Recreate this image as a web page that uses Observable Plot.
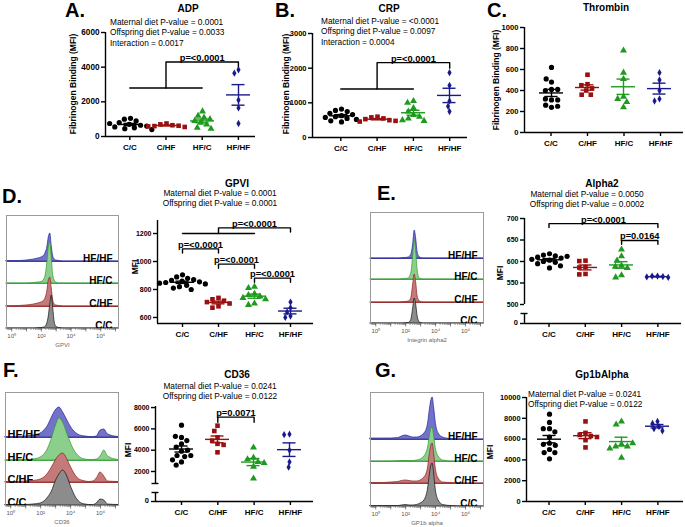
<!DOCTYPE html>
<html><head><meta charset="utf-8">
<script src="https://cdn.jsdelivr.net/npm/d3@7"></script>
<script src="https://cdn.jsdelivr.net/npm/@observablehq/plot@0.6"></script>
<style>
body{margin:0;background:#fff;}
#root{position:relative;width:685px;height:527px;overflow:hidden;font-family:"Liberation Sans",Arial,sans-serif;background:#fff;}
.abs{position:absolute;white-space:nowrap;line-height:1;}
</style></head><body><div id="root"></div>
<script>
const groups = ["C/C", "C/HF", "HF/C", "HF/HF"];
const groupColors = ["#000000", "#9a1010", "#1f9a1f", "#1a1a8c"];
const groupSymbols = ["circle", "square", "triangle", "diamond"];

const adpCC = [1050, 1000, 900, 800, 700, 650, 600, 550, 500, 450, 400, 750];
const adpCHF = [750, 700, 650, 620, 600, 580, 550];
const adpHFC = [1450, 1200, 1100, 1000, 900, 800, 700, 500, 450];
const adpHFHF = [3850, 3650, 2100, 1650, 750];
const crpCC = [820, 780, 750, 700, 660, 630, 600, 580, 550, 520, 480, 450];
const crpCHF = [600, 580, 550, 530, 500, 480, 460];
const crpHFC = [1050, 1000, 850, 750, 650, 600, 550, 500, 480];
const crpHFHF = [1870, 1500, 1050, 900, 750];
const thrCC = [620, 480, 510, 410, 400, 410, 310, 320, 310, 240, 260, 250];
const thrCHF = [550, 460, 450, 420, 400, 360, 360];
const thrHFC = [780, 570, 510, 340, 320, 290, 240];
const thrHFHF = [570, 500, 400, 320, 300];
const gpviCC = [905, 890, 880, 870, 865, 860, 855, 850, 845, 840, 830, 820, 810, 800];
const gpviCHF = [740, 730, 720, 710, 700, 680, 670];
const gpviHFC = [820, 810, 770, 760, 750, 740, 730, 700, 690];
const gpviHFHF = [710, 670, 640, 610, 600];
const a2CC = [618, 615, 613, 610, 608, 605, 603, 600, 598, 595, 590, 585, 612];
const a2CHF = [602, 601, 587, 586, 571, 570];
const a2HFC = [628, 612, 602, 590, 588, 585, 568, 563];
const a2HFHF = [566, 566, 565, 564, 563];
const cd36CC = [6350, 5200, 5300, 4900, 4600, 4300, 3900, 4000, 3500, 3500, 3400, 3100, 2900, 2600];
const cd36CHF = [6300, 5800, 5200, 4900, 4600, 4500, 3800];
const cd36HFC = [4250, 3300, 3150, 2900, 2800, 2450, 1350];
const cd36HFHF = [5500, 5450, 4000, 2900, 2400];
const gpCC = [8400, 7600, 7000, 7000, 6700, 6200, 5600, 5500, 5400, 5000, 4700, 4700, 4100];
const gpCHF = [7700, 6600, 6400, 6300, 6200, 5900, 5200];
const gpHFC = [7700, 7400, 5500, 5300, 5300, 5600, 5100, 4200];
const gpHFHF = [7700, 7500, 7200, 7000, 6800];

const histLabels = ["HF/HF", "HF/C", "C/HF", "C/C"];
const histFill = ["#7272c8", "#8ccf8c", "#c47a7a", "#8c8c8c"];
const histStroke = ["#22229a", "#2a9a2a", "#8e1d1d", "#111111"];
const histTickLabels = ["10\u2070", "", "10\u00b2", "", "10\u2074", "", "10\u2076", ""];

const gridNarrow = [-0.35, 0.5, 1, 1.5, 1.8, 2.0, 2.2, 2.3, 2.4, 2.5, 2.6, 2.7, 2.8, 2.9, 3.0, 3.2, 3.5, 4, 5, 6, 7.2];
const gpviHistHFHF = [0.5, 0.5, 1, 2, 3, 4, 6, 9, 14, 24, 28, 15, 5, 2, 1, 0.5, 0, 0, 0, 0, 0];
const gpviHistHFC = [0, 0, 0, 0.5, 1, 1.5, 4, 9, 20, 36, 41, 26, 8, 3, 1, 0, 0, 0, 0, 0, 0];
const gpviHistCHF = [0.3, 0.5, 1, 2, 3, 4, 6, 9, 15, 26, 29, 18, 6, 2, 1, 0.5, 0, 0, 0, 0, 0];
const gpviHistCC = [0, 0, 0, 0, 0.3, 0.5, 1, 2, 5, 12, 24, 33, 20, 6, 2, 0.5, 0, 0, 0, 0, 0];
const a2HistHFHF = [0, 0, 0, 0, 0.3, 0.5, 1, 2, 5, 14, 28, 20, 6, 2, 0.5, 0, 0, 0, 0, 0, 0];
const a2HistHFC = [0, 0, 0, 0, 0.3, 0.5, 1, 3, 8, 24, 39, 28, 9, 2, 0.5, 0, 0, 0, 0, 0, 0];
const a2HistCHF = [0, 0, 0, 0, 0.3, 0.5, 1, 2, 6, 18, 28, 20, 6, 2, 0.5, 0, 0, 0, 0, 0, 0];
const a2HistCC = [0, 0, 0, 0, 0, 0.3, 0.5, 1.5, 5, 15, 25, 19, 7, 2, 0.5, 0, 0, 0, 0, 0, 0];
const gridBroad = [-0.35, 0.5, 1, 1.5, 2, 2.25, 2.5, 2.75, 3, 3.25, 3.5, 3.75, 4, 4.25, 4.5, 4.75, 5, 5.25, 5.5, 5.75, 6, 6.25, 6.5, 7.2];
const cd36HistHFHF = [0.5, 0.5, 1, 2, 4, 7, 12, 20, 27, 30, 25, 18, 11, 6, 3, 1.5, 1, 0.5, 0.5, 1, 7, 8, 3, 0.5];
const cd36HistHFC = [0, 0.5, 0.5, 1, 3, 6, 12, 22, 34, 42, 38, 28, 18, 10, 5, 2, 1, 0.5, 0.5, 1, 4, 10, 4, 0.5];
const cd36HistCHF = [0.5, 0.5, 1, 1.5, 3, 5, 9, 15, 22, 27, 29, 24, 16, 9, 4, 2, 1, 0.5, 1, 4, 10, 6, 1, 0.5];
const cd36HistCC = [0.5, 0.5, 0.5, 1, 2, 4, 8, 14, 24, 31, 35, 30, 20, 11, 5, 2, 1, 0.5, 0.5, 2, 6, 5, 1, 0.5];
const gridGp = [-0.35, 0.5, 1, 1.5, 1.75, 2, 2.25, 2.5, 2.75, 3, 3.25, 3.4, 3.5, 3.6, 3.7, 3.8, 3.9, 4.0, 4.2, 4.5, 5, 6, 7.2];
const gpHistHFHF = [1, 1, 1, 1.5, 3, 4, 3, 2, 2, 3, 6, 10, 16, 28, 38, 42, 32, 18, 6, 2, 0.5, 0, 0];
const gpHistHFC = [0, 0, 0, 0.3, 0.5, 0.5, 0.5, 0.5, 1, 2, 5, 9, 14, 24, 32, 34, 26, 14, 5, 1, 0, 0, 0];
const gpHistCHF = [0.5, 0.5, 1, 1.5, 2.5, 3, 2.5, 2, 2, 3, 6, 10, 16, 28, 37, 40, 30, 16, 5, 1, 0.5, 0, 0];
const gpHistCC = [0.5, 0.5, 0.5, 0.5, 1, 1.5, 1, 1, 1.5, 3, 6, 11, 18, 30, 40, 43, 33, 18, 6, 1.5, 0.5, 0, 0];

const bracketsA = [
  {pts: [[0, 2800], [2, 2800]]},
  {pts: [[1, 2800], [1, 4300], [3, 4300], [3, 3950]], text: "p=<0.0001", at: [2, 4300]}
];
const bracketsB = [
  {pts: [[0, 1400], [2, 1400]]},
  {pts: [[1, 1400], [1, 2160], [3, 2160], [3, 2000]], text: "p=<0.0001", at: [2, 2160]}
];
const bracketsD = [
  {pts: [[0, 1200], [2, 1200]]},
  {pts: [[1, 1200], [1, 1240], [3, 1240], [3, 1210]], text: "p=<0.0001", at: [2, 1240]},
  {pts: [[0, 1060], [0, 1090], [1, 1090], [1, 1060]], text: "p=<0.0001", at: [0.5, 1090]},
  {pts: [[1, 952], [1, 981], [2, 981], [2, 952]], text: "p=<0.0001", at: [1.5, 981]},
  {pts: [[2, 852], [2, 881], [3, 881], [3, 852]], text: "p=<0.0001", at: [2.5, 881]}
];
const bracketsE = [
  {pts: [[0, 679], [0, 688], [3, 688], [3, 679]], text: "p=<0.0001", at: [1.5, 688]},
  {pts: [[2, 640], [2, 649], [3, 649], [3, 640]], text: "p=0.0164", at: [2.5, 649]}
];
const bracketsF = [
  {pts: [[1, 6620], [1, 7100], [2, 7100], [2, 6620]], text: "p=0.0071", at: [1.5, 7100]}
];

const FONT = "'Liberation Sans', Arial, Helvetica, sans-serif";
const root = document.getElementById("root");
const fmtInt = d3.format("d");
const lateLabels = [];

function place(el, x, y, w) {
  const d = document.createElement("div");
  d.style.cssText = `position:absolute;left:${x}px;top:${y}px;width:${w}px;`;
  d.appendChild(el);
  root.appendChild(d);
}
function label(s, x, base, size, opt = {}) {
  const d = document.createElement("div");
  d.className = "abs";
  d.textContent = s;
  d.style.fontSize = size + "px";
  d.style.fontWeight = opt.bold ? "bold" : "normal";
  d.style.color = opt.color || "#000";
  d.style.left = x + "px";
  d.style.top = (base - 0.847 * size) + "px";
  d.style.zIndex = "5";
  if (opt.anchor === "middle") d.style.transform = "translateX(-50%)";
  if (opt.anchor === "end") d.style.transform = "translateX(-100%)";
  root.appendChild(d);
}
function vlabel(s, cx, cy, size) {
  const d = document.createElement("div");
  d.className = "abs";
  d.textContent = s;
  d.style.fontSize = size + "px";
  d.style.fontWeight = "bold";
  d.style.left = cx + "px";
  d.style.top = cy + "px";
  d.style.zIndex = "5";
  d.style.transform = "translate(-50%,-50%) rotate(-90deg)";
  root.appendChild(d);
}

function scatterPanel(p) {
  const vals = p.vals;
  let yDom = p.yDom, yPx = p.yPx, segs, caps = [];
  if (p.brk) {
    const lin = px => p.yDom[0] + (px - p.yPx[0]) * (p.yDom[1] - p.yDom[0]) / (p.yPx[1] - p.yPx[0]);
    const vb = lin(p.brk.bottomPx), vs = lin(p.brk.stubTopPx), vu = lin(p.brk.segBottomPx);
    yDom = [vb, p.yDom[1]];
    yPx = [p.brk.bottomPx, p.yPx[1]];
    segs = [[vb, vs], [vu, p.yDom[1]]];
    caps = p.brk.capBoth ? [vs, vu] : [vs];
    lateLabels.push(["0", p.axisX - 6, p.brk.bottomPx + 2.5, p.tickFont]);
  } else {
    segs = [[yDom[0], yDom[1]]];
  }
  const top = Math.min(...yPx), bot = Math.max(...yPx);
  const ox = p.axisX - 50, oy = top - 20;
  const w = (p.xEnd + 8) - ox, h = (bot + 20) - oy;
  const mL = p.axisX - ox, mR = ox + w - p.xEnd, mT = top - oy, mB = oy + h - bot;
  const yRange = yPx.map(v => v - oy);
  const xd0 = (p.axisX - p.c0) / p.step, xd1 = (p.xEnd - p.c0) / p.step;
  const zeroMarks = p.brk ? [Plot.ruleY([yDom[0]], {x1: xd0 - 4 / p.step, x2: xd0, strokeWidth: 1.4})] : [];
  const points = groups.flatMap((g, i) => vals[i].map(v => ({g, v})));
  const stats = groups.map((g, i) => {
    const m = d3.mean(vals[i]), se = d3.deviation(vals[i]) / Math.sqrt(vals[i].length);
    return {g, mean: m, lo: m - se, hi: m + se};
  });
  const brPoints = (p.brackets || []).flatMap((b, k) => b.pts.map(([x, y]) => ({id: k, x, y})));
  const brLabels = (p.brackets || []).filter(b => b.text).map(b => ({x: b.at[0], y: b.at[1], t: b.text}));
  const axes = Plot.plot({
    width: w, height: h, marginLeft: mL, marginRight: mR, marginTop: mT, marginBottom: mB,
    style: `background:transparent;overflow:visible;font-family:${FONT};font-size:8px;font-weight:bold;color:#000;`,
    x: {domain: [xd0, xd1]},
    y: {domain: yDom, range: yRange},
    marks: [
      Plot.ruleX(segs, {x: xd0, y1: d => d[0], y2: d => d[1], strokeWidth: 1.4}),
      Plot.ruleY(caps, {x1: xd0 - 3.5 / p.step, x2: xd0 + 3.5 / p.step, strokeWidth: 1.4}),
      Plot.ruleY([yDom[0]], {strokeWidth: 1.4}),
      ...zeroMarks,
      Plot.axisY({ticks: p.ticks, tickFormat: fmtInt, tickSize: 4, tickPadding: 2, strokeWidth: 1.4, label: null, fontSize: p.tickFont}),
      Plot.axisX({ticks: [0, 1, 2, 3], tickFormat: i => groups[i], tickSize: 4, tickPadding: 4, strokeWidth: 1.4, label: null, fontSize: 8}),
      Plot.line(brPoints, {x: "x", y: "y", z: "id", strokeWidth: 1.4}),
      Plot.text(brLabels, {x: "x", y: "y", text: "t", lineAnchor: "bottom", dy: -1, fontSize: 9.3, fontWeight: "bold"})
    ]
  });
  place(axes, ox, oy, w);
  const dmL = (p.c0 - p.step / 2) - ox, dmR = ox + w - (p.c0 + 3.5 * p.step);
  const dotOpts = {fx: "g", y: "v", fill: "g", symbol: "g", padding: 0.2};
  const dots = Plot.plot({
    width: w, height: h, marginLeft: dmL, marginRight: dmR, marginTop: mT, marginBottom: mB,
    style: "background:transparent;overflow:visible;",
    fx: {domain: groups, padding: 0, axis: null},
    y: {domain: yDom, range: yRange, axis: null},
    color: {domain: groups, range: groupColors},
    symbol: {domain: groups, range: groupSymbols},
    marks: [
      Plot.dot(points.filter(d => d.g !== "HF/HF"), Plot.dodgeX("middle", {...dotOpts, r: 2.6})),
      Plot.dot(points.filter(d => d.g === "HF/HF"), Plot.dodgeX("middle", {...dotOpts, r: 2.2})),
      Plot.ruleX(stats, {fx: "g", x: null, y1: "lo", y2: "hi", stroke: "g", strokeWidth: 1.4}),
      Plot.tickY(stats, {fx: "g", y: "mean", stroke: "g", strokeWidth: 1.4, insetLeft: 6, insetRight: 6}),
      Plot.tickY(stats, {fx: "g", y: "lo", stroke: "g", strokeWidth: 1.4, insetLeft: 11.5, insetRight: 11.5}),
      Plot.tickY(stats, {fx: "g", y: "hi", stroke: "g", strokeWidth: 1.4, insetLeft: 11.5, insetRight: 11.5})
    ]
  });
  place(dots, ox, oy, w);
}

const minorTicks = d3.range(-1, 8).flatMap(d => d3.range(1, 10).map(k => d + Math.log10(k))).filter(v => v >= -0.35 && v <= 7.2);

function histPanel(p) {
  const ox = p.left - 10, oy = p.top - 10;
  const w = p.right + 10 - ox, h = p.bottom + 30 - oy;
  const mL = p.left - ox, mR = ox + w - p.right, mT = p.top - oy, mB = oy + h - p.bottom;
  const marks = [];
  p.rows.forEach((hs, r) => {
    const off = p.offsets[r];
    const pts = p.grid.map((x, k) => ({x, lo: off, hi: off + hs[k]}));
    marks.push(Plot.ruleY([off], {stroke: histStroke[r], strokeWidth: 0.8}));
    marks.push(Plot.areaY(pts, {x: "x", y1: "lo", y2: "hi", fill: histFill[r], stroke: histStroke[r], strokeWidth: 0.7, curve: "monotone-x"}));
  });
  const left = p.labelSide === "left";
  marks.push(
    Plot.text(histLabels, {y: p.offsets, frameAnchor: left ? "left" : "right", textAnchor: left ? "start" : "end", lineAnchor: "bottom", dx: left ? 2 : -6, dy: 0, fontSize: p.labelSize, fontWeight: "bold", fill: "#000"}),
    Plot.frame({stroke: "#9a9a9a", strokeWidth: 1}),
    Plot.axisX({ticks: minorTicks, tickSize: 2, tickFormat: () => "", color: "#666", strokeWidth: 0.6, label: null}),
    Plot.axisX({ticks: [0, 1, 2, 3, 4, 5, 6, 7], tickSize: 3.5, tickPadding: 1.5, tickFormat: d => histTickLabels[d], color: "#555", strokeWidth: 0.7, fontSize: 6, label: null}),
    Plot.text([p.xlabel], {frameAnchor: "bottom", dy: 18, fontSize: 6, fill: "#666"})
  );
  const svg = Plot.plot({
    width: w, height: h, marginLeft: mL, marginRight: mR, marginTop: mT, marginBottom: mB,
    style: `background:transparent;overflow:visible;font-family:${FONT};`,
    x: {domain: [-0.35, 7.2]},
    y: {domain: [0, p.bottom - p.top], range: [p.bottom - oy, p.top - oy], axis: null},
    marks
  });
  place(svg, ox, oy, w);
}

scatterPanel({axisX: 105, c0: 129.3, step: 36.2, xEnd: 255, yDom: [0, 6000], yPx: [136, 32], ticks: [0, 2000, 4000, 6000], tickFont: 8.2,
  vals: [adpCC, adpCHF, adpHFC, adpHFHF], brackets: bracketsA});
scatterPanel({axisX: 312, c0: 340.3, step: 36.3, xEnd: 467, yDom: [0, 3000], yPx: [137, 33], ticks: [0, 1000, 2000, 3000], tickFont: 7.5,
  vals: [crpCC, crpCHF, crpHFC, crpHFHF], brackets: bracketsB});
scatterPanel({axisX: 524, c0: 550.5, step: 36.5, xEnd: 683, yDom: [0, 1000], yPx: [132, 27], ticks: [0, 200, 400, 600, 800, 1000], tickFont: 7.6,
  vals: [thrCC, thrCHF, thrHFC, thrHFHF]});
scatterPanel({axisX: 157, c0: 182, step: 36, xEnd: 313, yDom: [557, 1293], yPx: [323, 220], ticks: [600, 800, 1000, 1200], tickFont: 7,
  vals: [gpviCC, gpviCHF, gpviHFC, gpviHFHF], brackets: bracketsD});
scatterPanel({axisX: 524, c0: 548.5, step: 36.3, xEnd: 681, yDom: [500, 700], yPx: [304, 218], ticks: [500, 550, 600, 650, 700], tickFont: 7,
  brk: {bottomPx: 323, stubTopPx: 313, segBottomPx: 304}, vals: [a2CC, a2CHF, a2HFC, a2HFHF], brackets: bracketsE});
scatterPanel({axisX: 155, c0: 181, step: 36.3, xEnd: 313, yDom: [2000, 8100], yPx: [471, 406], ticks: [2000, 4000, 6000, 8000], tickFont: 7,
  brk: {bottomPx: 501, stubTopPx: 492, segBottomPx: 483, capBoth: true}, vals: [cd36CC, cd36CHF, cd36HFC, cd36HFHF], brackets: bracketsF});
scatterPanel({axisX: 526, c0: 548.5, step: 36.3, xEnd: 683, yDom: [0, 10000], yPx: [501, 397], ticks: [0, 2000, 4000, 6000, 8000, 10000], tickFont: 7.4,
  vals: [gpCC, gpCHF, gpHFC, gpHFHF]});

histPanel({left: 6, right: 118, top: 215, bottom: 328, offsets: [67, 45, 22, 0], grid: gridNarrow,
  rows: [gpviHistHFHF, gpviHistHFC, gpviHistCHF, gpviHistCC], labelSide: "right", labelSize: 10, xlabel: "GPVI"});
histPanel({left: 370, right: 483, top: 212, bottom: 323, offsets: [65, 44, 21, 0], grid: gridNarrow,
  rows: [a2HistHFHF, a2HistHFC, a2HistCHF, a2HistCC], labelSide: "right", labelSize: 10, xlabel: "Integrin alpha2"});
histPanel({left: 5, right: 118, top: 392, bottom: 505, offsets: [68, 45, 23, 0], grid: gridBroad,
  rows: [cd36HistHFHF, cd36HistHFC, cd36HistCHF, cd36HistCC], labelSide: "left", labelSize: 11, xlabel: "CD36"});
histPanel({left: 370, right: 483, top: 392, bottom: 506, offsets: [67, 45, 23, 0], grid: gridGp,
  rows: [gpHistHFHF, gpHistHFC, gpHistCHF, gpHistCC], labelSide: "right", labelSize: 10, xlabel: "GP1b alpha"});

// broken-axis "0" labels, drawn last so nothing covers them
lateLabels.forEach(([s, x, b, f]) => label(s, x, b, f + 0.5, {bold: true, anchor: "end"}));

const panelLetters = [["A.", 65, 17], ["B.", 275, 17], ["C.", 487, 17], ["D.", 2, 203], ["E.", 377, 200], ["F.", 3, 377], ["G.", 375, 377]];
panelLetters.forEach(([s, x, b]) => label(s, x, b, 20, {bold: true}));
const titles = [["ADP", 188, 12], ["CRP", 389, 12], ["Thrombin", 606, 11], ["GPVI", 237, 187], ["Alpha2", 602, 187], ["CD36", 237, 378], ["Gp1bAlpha", 602, 378]];
titles.forEach(([s, x, b]) => label(s, x, b, 10, {bold: true, anchor: "middle"}));

const notesA = ["Maternal diet P-value = 0.0001", "Offspring diet P-value = 0.0033", "Interaction = 0.0017"];
const notesB = ["Maternal diet P-value = <0.0001", "Offspring diet P-value = 0.0097", "Interaction = 0.0004"];
const notesD = ["Maternal diet P-value = 0.0001", "Offspring diet P-value = 0.0001"];
const notesE = ["Maternal diet P-value = 0.0050", "Offspring diet P-value = 0.0002"];
const notesF = ["Maternal diet P-value = 0.0241", "Offspring diet P-value = 0.0122"];
const notesG = ["Maternal diet P-value = 0.0241", "Offspring diet P-value = 0.0122"];
notesA.forEach((s, i) => label(s, 110, 25 + 10.3 * i, 8.3));
notesB.forEach((s, i) => label(s, 321, 24 + 10.3 * i, 8.3));
notesD.forEach((s, i) => label(s, 220, 196.5 + 9.8 * i, 8.3, {anchor: "middle"}));
notesE.forEach((s, i) => label(s, 587, 197.5 + 9.8 * i, 8.3, {anchor: "middle"}));
notesF.forEach((s, i) => label(s, 220, 389 + 9.8 * i, 8.3, {anchor: "middle"}));
notesG.forEach((s, i) => label(s, 528, 397 + 9.8 * i, 8.3));

const yLabels = [["Fibrinogen Binding (MFI)", 73, 84], ["Fibrinogen Binding (MFI)", 286, 84], ["Fibrinogen Binding (MFI)", 496, 80],
  ["MFI", 135, 267], ["MFI", 500, 273], ["MFI", 128, 450], ["MFI", 490, 452]];
yLabels.forEach(([s, x, y]) => vlabel(s, x, y, 8.5));
</script>
</body></html>
